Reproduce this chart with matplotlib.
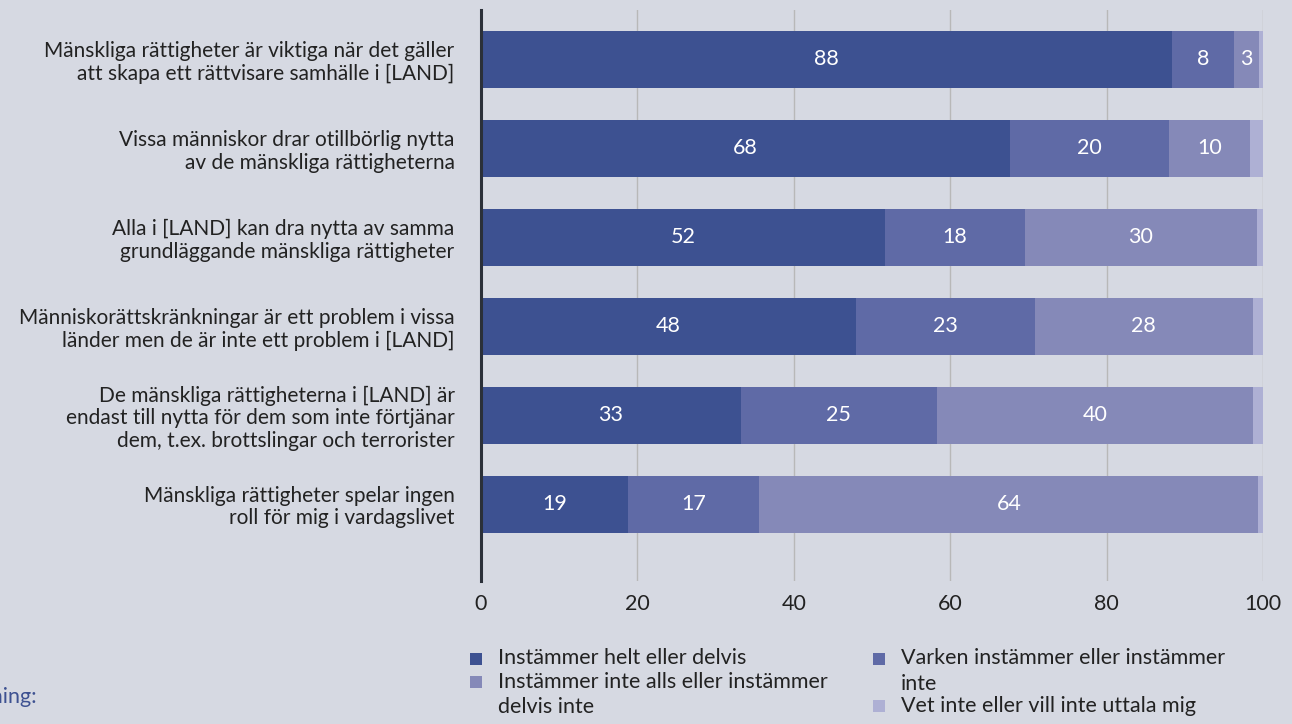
import matplotlib
matplotlib.use("Agg")
import matplotlib.pyplot as plt
from matplotlib.patches import Rectangle

categories = [
    "Mänskliga rättigheter är viktiga när det gäller\natt skapa ett rättvisare samhälle i [LAND]",
    "Vissa människor drar otillbörlig nytta\nav de mänskliga rättigheterna",
    "Alla i [LAND] kan dra nytta av samma\ngrundläggande mänskliga rättigheter",
    "Människorättskränkningar är ett problem i vissa\nländer men de är inte ett problem i [LAND]",
    "De mänskliga rättigheterna i [LAND] är\nendast till nytta för dem som inte förtjänar\ndem, t.ex. brottslingar och terrorister",
    "Mänskliga rättigheter spelar ingen\nroll för mig i vardagslivet",
]
series_names = [
    "Instämmer helt eller delvis",
    "Varken instämmer eller instämmer\ninte",
    "Instämmer inte alls eller instämmer\ndelvis inte",
    "Vet inte eller vill inte uttala mig",
]
agree = [88.3, 67.6, 51.6, 47.9, 33.2, 18.8]
neither = [8.0, 20.4, 18.0, 22.9, 25.1, 16.8]
disagree = [3.2, 10.3, 29.6, 27.9, 40.4, 63.8]
dont_know = [0.5, 1.7, 0.9, 1.3, 1.3, 0.6]
xticks = [0, 20, 40, 60, 80, 100]

colors = ["#3d5191", "#5f6aa6", "#8589b8", "#aeb0d4"]
bg = "#d6d9e2"
font = "Lato"
fs = 15.5
W, H = 1292, 724

fig = plt.figure(figsize=(W / 100, H / 100), dpi=100, facecolor=bg)
ax = fig.add_axes([481 / W, 1 - 581 / H, (1263 - 481) / W, (581 - 10) / H])
ax.set_facecolor(bg)

series = [agree, neither, disagree, dont_know]
y = list(range(len(categories)))
left = [0.0] * len(categories)
for vals, col in zip(series, colors):
    ax.barh(y, vals, left=left, height=0.64, color=col, zorder=3)
    for yi, l, v in zip(y, left, vals):
        if v >= 2.5:
            ax.text(l + v / 2, yi, f"{v:.0f}", ha="center", va="center",
                    color="white", fontsize=fs, family=font, zorder=4)
    left = [a + b for a, b in zip(left, vals)]

ax.set_xlim(0, 100)
ax.set_ylim(5.865, -0.556)
ax.set_xticks(xticks)
ax.set_xticklabels([str(t) for t in xticks], fontsize=fs, family=font, color="#222222")
ax.set_yticks(y)
ax.set_yticklabels(categories, fontsize=15.0, family=font, color="#222222",
                   linespacing=1.15)
ax.tick_params(axis="both", length=0)
ax.tick_params(axis="y", pad=19)
ax.tick_params(axis="x", pad=9)
ax.grid(axis="x", color="#b8b8b8", linewidth=1, zorder=0)
for s in ["top", "right", "bottom"]:
    ax.spines[s].set_visible(False)
ax.spines["left"].set_color("#2b3039")
ax.spines["left"].set_linewidth(2.2)
ax.spines["left"].set_zorder(5)

# legend (drawn manually so that square markers align with the first text line)
leg_items = [
    (0, 470, 659),
    (2, 470, 682),
    (1, 873, 659),
    (3, 873, 706),
]
sq = 12
for idx, xpx, ypx in leg_items:
    fig.patches.append(Rectangle((xpx / W, 1 - (ypx + sq / 2) / H), sq / W, sq / H,
                                 transform=fig.transFigure, facecolor=colors[idx],
                                 edgecolor="none"))
    fig.text((xpx + 28) / W, 1 - (ypx - 10.5) / H, series_names[idx], ha="left",
             va="top", fontsize=fs, family=font, color="#222222", linespacing=1.32)

fig.text(38 / W, 1 - 697 / H, "Anmärkning:", ha="right", va="center",
         color="#3d5191", fontsize=fs, family=font)

fig.savefig("out.png", dpi=100, facecolor=bg)
